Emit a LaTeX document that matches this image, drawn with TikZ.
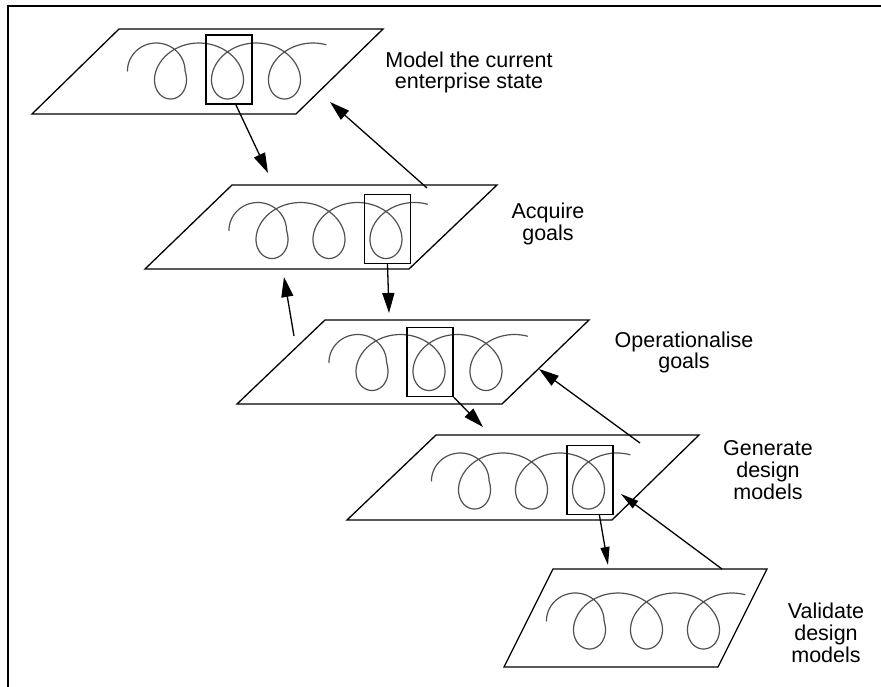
\documentclass[tikz,border=0pt]{standalone}
\usepackage{fontspec}
\setmainfont{Liberation Sans}
\usepackage{xcolor}
\definecolor{coilGrey}{RGB}{80, 80, 80}
\usepackage{tikz}
\usetikzlibrary{
    arrows.meta,
    calc
}

% one looping scribble, placed by the centre of its first loop
\newcommand{\coil}[2]{%
    \draw[coilLine, shift={(#1,#2)}]
        plot[domain=-270:920, samples=240]
        ({0.1583*max(\x,-90) - 28.8*sin(\x)}, {28*cos(\x)});
}

\begin{document}
\begin{tikzpicture}[
    x=1pt, y=-1pt,
    planeLine/.style={
        draw=black, line width=1.3pt, line join=miter
    },
    coilLine/.style={
        draw=coilGrey, line width=1.2pt, line join=round, line cap=round
    },
    focusBox/.style={
        rectangle, draw=black, line width=1.4pt,
        minimum width=46pt, minimum height=69pt, inner sep=0pt
    },
    flowArrow/.style={
        -{Triangle[length=20pt, width=12pt]}, line width=1.3pt, draw=black
    },
    thinArrow/.style={
        -{Triangle[length=18pt, width=9pt]}, line width=1.3pt, draw=black
    },
    stageLabel/.style={
        font=\fontsize{21.5}{21.7}\selectfont, align=center, inner sep=0pt
    }
]

    \useasboundingbox (0,0) rectangle (881,686);
    \clip (0,0) rectangle (881,686);

    % Outer frame
    \draw[line width=1.2pt] (8,6) rectangle (900,710);

    % Planes
    \draw[planeLine] (119,29) coordinate (p1tl) -- (383,29) coordinate (p1tr)
        -- (296,114) coordinate (p1br) -- (32,114) coordinate (p1bl) -- cycle;
    \draw[planeLine] (232,185) coordinate (p2tl) -- (497,185) coordinate (p2tr)
        -- (409,269) coordinate (p2br) -- (145,269) coordinate (p2bl) -- cycle;
    \draw[planeLine] (325,320) coordinate (p3tl) -- (589,320) coordinate (p3tr)
        -- (502,404) coordinate (p3br) -- (237,404) coordinate (p3bl) -- cycle;
    \draw[planeLine] (436,435) coordinate (p4tl) -- (699,435) coordinate (p4tr)
        -- (612,520) coordinate (p4br) -- (347,520) coordinate (p4bl) -- cycle;
    \draw[planeLine] (553,569) coordinate (p5tl) -- (767,569) coordinate (p5tr)
        -- (718,667) coordinate (p5br) -- (504,667) coordinate (p5bl) -- cycle;

    % Scribbles
    \coil{170.5}{71}
    \coil{272}{230.5}
    \coil{372}{362.5}
    \coil{474.5}{481}
    \coil{589.5}{621}

    % Focus boxes
    \node[focusBox] (box1) at (229,69.5) {};
    \node[focusBox] (box2) at (387.5,229) {};
    \node[focusBox] (box3) at (430,362) {};
    \node[focusBox] (box4) at (590,480) {};

    % Stage labels
    \node[stageLabel] (modelLbl) at (469,72.5) {Model the current\\enterprise state};
    \node[stageLabel] (acquireLbl) at (548,224) {Acquire\\goals};
    \node[stageLabel] (operLbl) at (684,352.5) {Operationalise\\goals};
    \node[stageLabel] (generateLbl) at (768,470) {Generate\\design\\models};
    \node[stageLabel] (validateLbl) at (826,633) {Validate\\design\\models};

    % Arrow ends
    \coordinate (downA) at (268,173);
    \coordinate (downB) at (389,313);
    \coordinate (downC) at (483,427);
    \coordinate (downD) at (608,565);
    \coordinate (upAfrom) at (427,188);
    \coordinate (upAto) at (330,102);
    \coordinate (upBfrom) at (294,336);
    \coordinate (upBto) at (284,277);
    \coordinate (upCfrom) at (640,443);
    \coordinate (upCto) at (539,369);
    \coordinate (upDfrom) at (722,569);
    \coordinate (upDto) at (621,494);

    % Connectors
    \draw[flowArrow] (box1.281) -- (downA);
    \draw[flowArrow] (box2.south) -- (downB);
    \draw[flowArrow] (box3.south east) -- (downC);
    \draw[thinArrow] (box4.285) -- (downD);

    \draw[flowArrow] (upAfrom) -- (upAto);
    \draw[flowArrow] (upBfrom) -- (upBto);
    \draw[flowArrow] (upCfrom) -- (upCto);
    \draw[thinArrow] (upDfrom) -- (upDto);

\end{tikzpicture}
\end{document}
